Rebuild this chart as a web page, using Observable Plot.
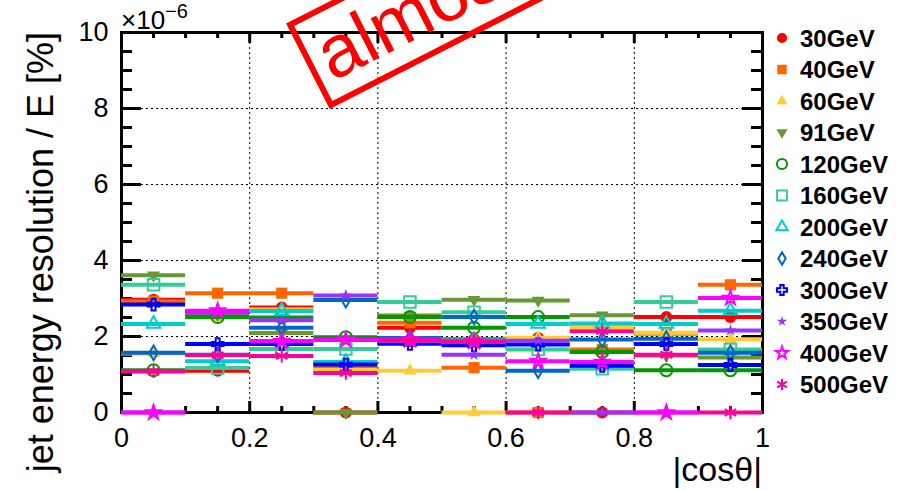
<!DOCTYPE html>
<html>
<head>
<meta charset="utf-8">
<script src="https://cdn.jsdelivr.net/npm/d3@7"></script>
<script src="https://cdn.jsdelivr.net/npm/@observablehq/plot@0.6"></script>
<style>
  html, body { margin: 0; padding: 0; background: #fff; }
  #chart svg { display: block; }
</style>
</head>
<body>
<div id="chart"></div>
<script>
// |cos(theta)| bin edges (10 bins)
const binEdges = [0, 0.1, 0.2, 0.3, 0.4, 0.5, 0.6, 0.7, 0.8, 0.9, 1.0];

// Jet energy resolution / E per bin, in units of 1e-6 %
const res30  = [2.97, 1.10, 2.76, 0.00, 2.23, 1.93, 1.96, 0.00, 2.51, 2.51];
const res40  = [2.93, 3.14, 3.14, 1.18, 2.36, 1.18, 0.00, 1.66, 2.07, 3.36];
const res60  = [1.55, 2.50, 2.72, 1.12, 1.10, 0.00, 1.97, 2.25, 2.10, 1.93];
const res91  = [3.61, 2.57, 2.09, 0.00, 2.55, 2.97, 2.95, 2.56, 1.50, 1.45];
const res120 = [1.11, 2.51, 2.50, 1.98, 2.51, 2.23, 2.51, 1.59, 1.11, 1.11];
const res160 = [3.36, 1.17, 1.67, 1.67, 2.91, 2.64, 1.66, 1.15, 2.91, 1.66];
const res200 = [2.33, 1.35, 2.67, 1.33, 1.90, 1.90, 2.33, 2.34, 2.33, 2.68];
const res240 = [1.57, 1.52, 2.23, 2.96, 1.96, 2.51, 1.10, 1.92, 1.94, 1.57];
const res300 = [2.84, 1.80, 1.80, 1.26, 1.81, 1.77, 1.79, 1.23, 1.80, 1.25];
const res350 = [0.00, 2.63, 2.43, 3.08, 1.88, 1.52, 1.89, 0.00, 0.00, 2.16];
const res400 = [0.00, 2.68, 1.88, 1.91, 1.92, 1.87, 1.35, 1.33, 0.00, 3.01];
const res500 = [1.08, 1.51, 1.49, 1.04, 1.90, 1.87, 0.00, 2.14, 1.52, 0.00];

const seriesNames = ["30GeV", "40GeV", "60GeV", "91GeV", "120GeV", "160GeV",
                     "200GeV", "240GeV", "300GeV", "350GeV", "400GeV", "500GeV"];
const seriesValues = [res30, res40, res60, res91, res120, res160,
                      res200, res240, res300, res350, res400, res500];

// Axis ticks
const xMajor = [0, 0.2, 0.4, 0.6, 0.8, 1];
const xMinor = [0.05, 0.1, 0.15, 0.25, 0.3, 0.35, 0.45, 0.5, 0.55, 0.65, 0.7, 0.75, 0.85, 0.9, 0.95];
const yMajor = [0, 2, 4, 6, 8, 10];
const yMinor = [0.5, 1, 1.5, 2.5, 3, 3.5, 4.5, 5, 5.5, 6.5, 7, 7.5, 8.5, 9, 9.5];
const xGrid = [0.2, 0.4, 0.6, 0.8];
const yGrid = [2, 4, 6, 8];

// Marker styles, one per series
const styles = [
  {color: "#ff0000", symbol: "circle",   filled: true,  r: 6},
  {color: "#ff6600", symbol: "square",   filled: true,  r: 6.3},
  {color: "#ffcc33", symbol: "triangle", filled: true,  r: 4.8},
  {color: "#669933", symbol: "triangle", filled: true,  r: 4.8, rotate: 180},
  {color: "#009900", symbol: "circle",   filled: false, r: 6},
  {color: "#33cc99", symbol: "square",   filled: false, r: 6.5},
  {color: "#00cccc", symbol: "triangle", filled: false, r: 5},
  {color: "#0066cc", symbol: "diamond",  filled: false, r: 4.5},
  {color: "#0000ff", symbol: "cross",    filled: false, r: 5},
  {color: "#9933ff", symbol: "star",     filled: true,  r: 3.8},
  {color: "#ff00ff", symbol: "star",     filled: false, r: 4.5},
  {color: "#ff0099", symbol: "asterisk", filled: false, r: 6.3}
];

const W = 905, H = 491;
const mL = 121, mR = 143, mT = 32, mB = 79;
const fw = W - mL - mR, fh = H - mT - mB;
const font = "'Liberation Sans', Arial, Helvetica, sans-serif";

const marks = [
  Plot.gridX(xGrid, {stroke: "black", strokeOpacity: 1, strokeWidth: 1, strokeDasharray: "2,3"}),
  Plot.gridY(yGrid, {stroke: "black", strokeOpacity: 1, strokeWidth: 1, strokeDasharray: "2,3"}),
  // inward ticks on all four sides
  Plot.tickY(yMajor, {y: d => d, insetRight: fw - 20, stroke: "black", strokeWidth: 3}),
  Plot.tickY(yMinor, {y: d => d, insetRight: fw - 11, stroke: "black", strokeWidth: 3}),
  Plot.tickY(yMajor, {y: d => d, insetLeft: fw - 20, stroke: "black", strokeWidth: 3}),
  Plot.tickY(yMinor, {y: d => d, insetLeft: fw - 11, stroke: "black", strokeWidth: 3}),
  Plot.tickX(xMajor, {x: d => d, insetTop: fh - 11, stroke: "black", strokeWidth: 3}),
  Plot.tickX(xMinor, {x: d => d, insetTop: fh - 6, stroke: "black", strokeWidth: 3}),
  Plot.tickX(xMajor, {x: d => d, insetBottom: fh - 11, stroke: "black", strokeWidth: 3}),
  Plot.tickX(xMinor, {x: d => d, insetBottom: fh - 6, stroke: "black", strokeWidth: 3}),
  Plot.frame({stroke: "black", strokeWidth: 3}),
  Plot.axisX(xMajor, {tickSize: 0, tickPadding: 15, fontSize: 27, label: null, tickFormat: d => String(d)}),
  Plot.axisY(yMajor, {tickSize: 0, tickPadding: 13, fontSize: 27, label: null, tickFormat: d => String(d)})
];

// each series: horizontal bin segments plus a marker at the bin centre
seriesValues.forEach((vals, k) => {
  const s = styles[k];
  const rows = vals.map((v, i) => ({
    lo: binEdges[i], hi: binEdges[i + 1], mid: (binEdges[i] + binEdges[i + 1]) / 2, v
  }));
  marks.push(Plot.ruleY(rows, {y: "v", x1: "lo", x2: "hi", stroke: s.color, strokeWidth: 4}));
  marks.push(Plot.dot(rows, {
    x: "mid", y: "v", symbol: s.symbol, r: s.r,
    fill: s.filled ? s.color : "none",
    stroke: s.filled ? "none" : s.color,
    strokeWidth: 2,
    rotate: s.rotate || 0
  }));
});

const chart = Plot.plot({
  width: W, height: H,
  marginLeft: mL, marginRight: mR, marginTop: mT, marginBottom: mB,
  x: {domain: [0, 1]},
  y: {domain: [0, 10]},
  style: {fontFamily: font, color: "black", background: "white", overflow: "hidden"},
  marks
});

const svg = d3.select(chart);

// axis titles
svg.append("text")
  .attr("transform", `translate(53,${mT}) rotate(-90)`)
  .attr("text-anchor", "end")
  .attr("font-size", 36).attr("font-family", font).attr("fill", "black")
  .text("jet energy resolution / E [%]");

svg.append("text")
  .attr("x", W - mR).attr("y", 481)
  .attr("text-anchor", "end")
  .attr("font-size", 34).attr("font-family", font).attr("fill", "black")
  .text("|cosθ|");

// exponent of the y axis
const ex = svg.append("text")
  .attr("x", mL).attr("y", 29)
  .attr("text-anchor", "start")
  .attr("font-size", 26).attr("font-family", font).attr("fill", "black");
ex.append("tspan").text("×10");
ex.append("tspan").attr("dy", -11).attr("font-size", 20).text("−6");

// legend
const symbolTypes = {
  circle: d3.symbolCircle, square: d3.symbolSquare, triangle: d3.symbolTriangle,
  diamond: d3.symbolDiamond, cross: d3.symbolCross, star: d3.symbolStar, asterisk: d3.symbolAsterisk
};
const lg = svg.append("g").attr("text-anchor", "start");
seriesNames.forEach((name, i) => {
  const s = styles[i];
  const y = 38 + i * 31.5;
  const rr = s.r * 0.85;
  const path = d3.symbol(symbolTypes[s.symbol], Math.PI * rr * rr)();
  lg.append("path")
    .attr("d", path)
    .attr("transform", `translate(782,${y}) rotate(${s.rotate || 0})`)
    .attr("fill", s.filled ? s.color : "none")
    .attr("stroke", s.filled ? "none" : s.color)
    .attr("stroke-width", 2);
  lg.append("text")
    .attr("x", 800).attr("y", y).attr("dy", "0.36em")
    .attr("text-anchor", "start")
    .attr("font-size", 24).attr("font-weight", "bold")
    .attr("font-family", font).attr("fill", "black")
    .text(name);
});

// red stamp across the top edge
const st = svg.append("g").attr("transform", "translate(331,105) rotate(-27)");
st.append("rect")
  .attr("x", 0).attr("y", -90).attr("width", 440).attr("height", 90)
  .attr("fill", "none").attr("stroke", "#ff0000").attr("stroke-width", 6);
st.append("text")
  .attr("x", 12).attr("y", -20)
  .attr("text-anchor", "start")
  .attr("font-size", 74).attr("font-family", font).attr("fill", "#ff0000")
  .text("almost preliminary");

document.getElementById("chart").appendChild(chart);
</script>
</body>
</html>
